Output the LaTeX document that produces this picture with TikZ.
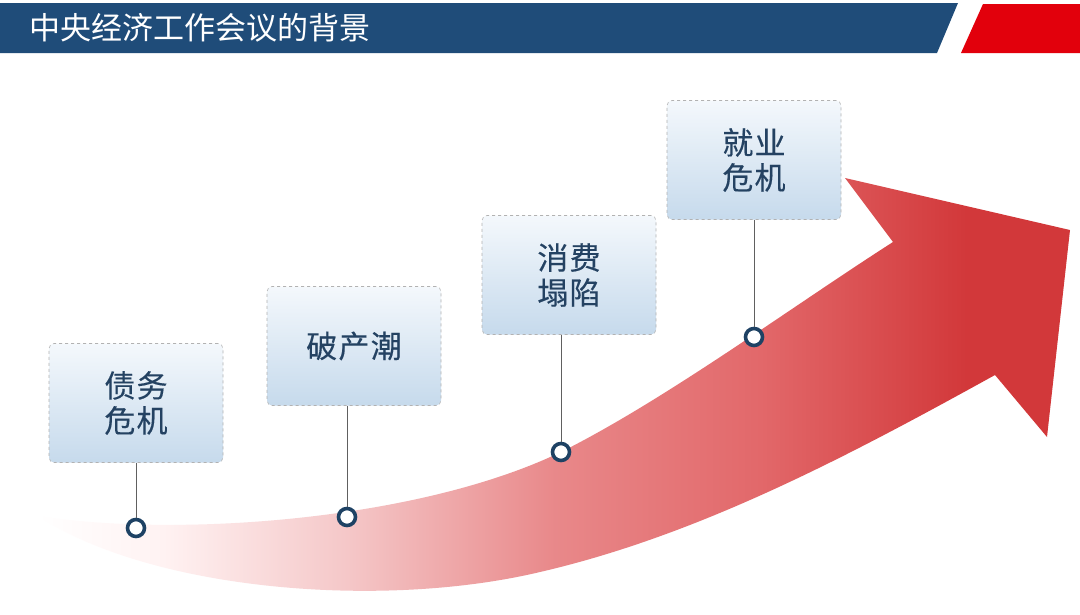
\documentclass[tikz,border=0pt]{standalone}
\usepackage{fontspec}
\usepackage{xcolor}
\usepackage{tikz}
\newfontfamily\cjk{Noto Sans CJK SC}
\newfontfamily\cjkbox[LetterSpace=4,FakeBold=0.3]{Noto Sans CJK SC}

\definecolor{barblue}{RGB}{31,76,121}
\definecolor{barred}{RGB}{226,0,12}
\definecolor{textblue}{RGB}{36,66,98}
\definecolor{dotblue}{RGB}{30,66,100}
\definecolor{boxtop}{RGB}{244,248,252}
\definecolor{boxbottom}{RGB}{198,218,236}
\definecolor{arrowpink}{RGB}{242,185,186}
\definecolor{arrowmid}{RGB}{226,104,106}
\definecolor{arrowred}{RGB}{210,56,58}

% horizontal fade of the big arrow (bbox maps to 25bp--75bp)
\pgfdeclarehorizontalshading{arrowfade}{100bp}{%
  color(0bp)=(white); color(25bp)=(white); color(31bp)=(red!5);
  color(40bp)=(arrowpink!80!white); color(50bp)=(arrowpink!40!arrowmid);
  color(60bp)=(arrowmid); color(70bp)=(arrowred); color(100bp)=(arrowred)}

\tikzset{
  infobox/.style={draw=gray!60, dashed, line width=0.6pt, rounded corners=5pt,
    top color=boxtop, bottom color=boxbottom, minimum width=174pt,
    minimum height=119pt, align=center, text=textblue,
    font=\cjkbox\fontsize{31}{35}\selectfont},
  dot/.style={circle, draw=dotblue, line width=3.6pt, fill=white,
    minimum size=17pt, inner sep=0pt},
  stem/.style={gray!75!black, line width=0.7pt},
}

\begin{document}
\begin{tikzpicture}[x=1pt, y=-1pt]
% Coordinate model: pixel grid of the slide, origin top-left, y downwards.
\fill[white] (0,0) rectangle (1080,614);
\useasboundingbox (0,0) rectangle (1080,614);

% --- Title bar ---
\fill[barblue] (0,3) -- (958,3) -- (937,53) -- (0,53) -- cycle;
\fill[barred] (983,4) -- (1080,4) -- (1080,53) -- (961,53) -- cycle;
\node[anchor=west, text=white, inner sep=0pt, font=\cjk\fontsize{31}{35}\selectfont]
  (title) at (29,28) {中央经济工作会议的背景};

% --- Rising arrow ---
\shade[shading=arrowfade]
  (38,516) .. controls (180,538) and (420,520) .. (561,452)
  .. controls (665,400) and (790,308) .. (893,242)
  -- (845,178) -- (1070,230) -- (1047,437) -- (995,375)
  .. controls (850,455) and (700,535) .. (540,572)
  .. controls (380,610) and (150,590) .. (38,516)
  -- cycle;

% --- Boxes ---
\node[infobox] (debt)     at (136,403) {债务\\危机};
\node[infobox] (bankrupt) at (354,346) {破产潮};
\node[infobox] (consume)  at (569,275) {消费\\塌陷};
\node[infobox] (jobs)     at (754,160) {就业\\危机};

% --- Markers on the arrow ---
\node[dot] (m1) at (136,528) {};
\node[dot] (m2) at (347,517) {};
\node[dot] (m3) at (561,452) {};
\node[dot] (m4) at (754,337) {};

% --- Stems from box to marker ---
\draw[stem] (m1 |- debt.south) -- (m1);
\draw[stem] (m2 |- bankrupt.south) -- (m2);
\draw[stem] (m3 |- consume.south) -- (m3);
\draw[stem] (m4 |- jobs.south) -- (m4);
\end{tikzpicture}
\end{document}
